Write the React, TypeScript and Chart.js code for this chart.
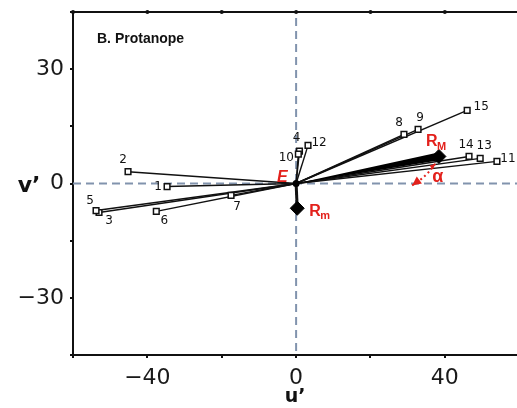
import React, { useEffect, useRef } from 'react';
import { Chart, registerables } from 'chart.js';

Chart.register(...registerables);

// ---- data ----
const X_MIN = -60;
const X_MAX = 59.4;
const Y_MIN = -45;
const Y_MAX = 45;
const X_TICK_LABELS = [-40, 0, 40];
const Y_TICK_LABELS = [30, 0, -30];
const X_LABEL = 'u\u2019';
const Y_LABEL = 'v\u2019';
const TITLE = 'B. Protanope';

const POINT_IDS = ['1', '2', '3', '4', '5', '6', '7', '8', '9', '10', '11', '12', '13', '14', '15'];
const POINT_U = [-34.7, -45.2, -53.0, 0.9, -53.8, -37.6, -17.5, 29.0, 32.8, 0.6, 54.0, 3.2, 49.5, 46.5, 46.0];
const POINT_V = [-0.8, 3.1, -7.6, 8.5, -7.1, -7.3, -3.1, 12.9, 14.2, 7.7, 5.8, 10.0, 6.6, 7.1, 19.2];

const R_MAX = { u: 38.4, v: 7.1 };
const R_MIN = { u: 0.3, v: -6.5 };
const ALPHA_ARROW_FROM = { u: 37.4, v: 5.2 };
const ALPHA_ARROW_TO = { u: 31.2, v: -0.5 };

// ---- styles (label offsets in px) ----
const LABEL_OFFSETS: [number, number][] = [
  [-9, 0], [-5, -12], [10, 8], [-3, -13], [-6, -10], [8, 10], [6, 12], [-5, -11],
  [2, -12], [-12, 4], [11, -3], [11, -3], [4, -12], [-3, -12], [14, -3],
];
const RED = '#e3211c';
const DASH = '#8193ad';

const zeroPad = (s: any) => {
  s.paddingTop = 0;
  s.paddingBottom = 0;
  s.paddingLeft = 0;
  s.paddingRight = 0;
};

export default function App() {
  const ref = useRef<HTMLCanvasElement>(null);

  useEffect(() => {
    const canvas = ref.current;
    if (!canvas) return;

    const lineSets: any[] = POINT_IDS.map((_, i) => ({
      type: 'scatter',
      data: [{ x: 0, y: 0 }, { x: POINT_U[i], y: POINT_V[i] }],
      showLine: true,
      borderColor: '#111',
      borderWidth: 1.4,
      pointRadius: 0,
      order: 3,
    }));
    lineSets.push({
      type: 'scatter',
      data: [{ x: 0, y: 0 }, { x: R_MIN.u, y: R_MIN.v }],
      showLine: true,
      borderColor: '#111',
      borderWidth: 3,
      pointRadius: 0,
      order: 3,
    });

    const squares = {
      type: 'scatter',
      data: POINT_IDS.map((_, i) => ({ x: POINT_U[i], y: POINT_V[i] })),
      pointStyle: 'rect',
      pointRadius: 4,
      backgroundColor: '#fff',
      borderColor: '#111',
      borderWidth: 1.5,
      order: 1,
    };
    const diamonds = {
      type: 'scatter',
      data: [{ x: R_MAX.u, y: R_MAX.v }, { x: R_MIN.u, y: R_MIN.v }],
      pointStyle: 'rectRot',
      pointRadius: 7,
      backgroundColor: '#000',
      borderColor: '#000',
      borderWidth: 1,
      order: 0,
    };

    const deco = {
      id: 'deco',
      beforeDatasetsDraw(chart: any) {
        const { ctx, chartArea: a, scales } = chart;
        const x = scales.x, y = scales.y;
        const x0 = x.getPixelForValue(0), y0 = y.getPixelForValue(0);
        ctx.save();
        ctx.strokeStyle = DASH;
        ctx.lineWidth = 2;
        ctx.setLineDash([8, 5]);
        ctx.beginPath();
        ctx.moveTo(x0, a.top + 6);
        ctx.lineTo(x0, a.bottom);
        ctx.moveTo(a.left, y0);
        ctx.lineTo(a.right, y0);
        ctx.stroke();
        ctx.setLineDash([]);
        ctx.strokeStyle = '#111';
        ctx.lineWidth = 2;
        ctx.beginPath();
        ctx.moveTo(a.left, a.top);
        ctx.lineTo(a.right, a.top);
        ctx.stroke();
        ctx.fillStyle = '#111';
        for (let v = -60; v <= 40; v += 20) {
          ctx.beginPath();
          ctx.arc(x.getPixelForValue(v), a.top, 2, 0, Math.PI * 2);
          ctx.fill();
        }
        ctx.restore();
      },
      afterDatasetsDraw(chart: any) {
        const { ctx, chartArea: a, scales } = chart;
        const x = scales.x, y = scales.y;
        const px = (u: number) => x.getPixelForValue(u);
        const py = (v: number) => y.getPixelForValue(v);
        const x0 = px(0), y0 = py(0);
        ctx.save();
        // wedge toward R_M
        const mx = px(R_MAX.u), my = py(R_MAX.v);
        const dx = mx - x0, dy = my - y0;
        const len = Math.hypot(dx, dy);
        const nx = -dy / len, ny = dx / len;
        ctx.fillStyle = '#000';
        ctx.beginPath();
        ctx.moveTo(x0, y0);
        ctx.lineTo(mx + nx * 4, my + ny * 4);
        ctx.lineTo(mx - nx * 4, my - ny * 4);
        ctx.closePath();
        ctx.fill();
        // origin blob
        ctx.beginPath();
        ctx.arc(x0, y0, 3.5, 0, Math.PI * 2);
        ctx.fill();

        // numbers
        ctx.fillStyle = '#111';
        ctx.font = '12px "DejaVu Sans"';
        ctx.textAlign = 'center';
        ctx.textBaseline = 'middle';
        POINT_IDS.forEach((id, i) => {
          const [ox, oy] = LABEL_OFFSETS[i];
          ctx.fillText(id, px(POINT_U[i]) + ox, py(POINT_V[i]) + oy);
        });

        // red annotations
        ctx.fillStyle = RED;
        ctx.textAlign = 'left';
        ctx.textBaseline = 'alphabetic';
        ctx.font = 'italic bold 16px "Liberation Sans"';
        ctx.fillText('E', x0 - 19, y0 - 2);
        ctx.font = 'bold 16px "Liberation Sans"';
        ctx.fillText('R', mx - 13, my - 10);
        ctx.font = 'bold 11px "Liberation Sans"';
        ctx.fillText('M', mx - 2, my - 6);
        const nxm = px(R_MIN.u), nym = py(R_MIN.v);
        ctx.font = 'bold 16px "Liberation Sans"';
        ctx.fillText('R', nxm + 12, nym + 8);
        ctx.font = 'bold 11px "Liberation Sans"';
        ctx.fillText('m', nxm + 23, nym + 11);
        ctx.font = 'bold 18px "Liberation Sans"';
        ctx.fillText('\u03b1', px(ALPHA_ARROW_FROM.u) - 3, py(ALPHA_ARROW_TO.v) - 3);

        // alpha arrow
        const ax1 = px(ALPHA_ARROW_FROM.u), ay1 = py(ALPHA_ARROW_FROM.v);
        const ax2 = px(ALPHA_ARROW_TO.u), ay2 = py(ALPHA_ARROW_TO.v);
        ctx.strokeStyle = RED;
        ctx.lineWidth = 2;
        ctx.setLineDash([2, 3]);
        ctx.beginPath();
        ctx.moveTo(ax1, ay1);
        ctx.quadraticCurveTo((ax1 + ax2) / 2 + 3, (ay1 + ay2) / 2 + 2, ax2, ay2);
        ctx.stroke();
        ctx.setLineDash([]);
        const head = (tx: number, ty: number, fx: number, fy: number, s: number) => {
          const ang = Math.atan2(ty - fy, tx - fx);
          ctx.beginPath();
          ctx.moveTo(tx, ty);
          ctx.lineTo(tx - s * Math.cos(ang - 0.45), ty - s * Math.sin(ang - 0.45));
          ctx.lineTo(tx - s * Math.cos(ang + 0.45), ty - s * Math.sin(ang + 0.45));
          ctx.closePath();
          ctx.fill();
        };
        head(ax2, ay2, ax2 + 8, ay2 - 6, 10);
        head(ax1, ay1, ax1 - 6, ay1 + 6, 6);

        // v' label
        ctx.fillStyle = '#111';
        ctx.font = 'bold 22px "DejaVu Sans"';
        ctx.textAlign = 'center';
        ctx.textBaseline = 'middle';
        ctx.fillText(Y_LABEL, 29, y0 + 3);

        // title
        ctx.font = 'bold 14px "Liberation Sans"';
        ctx.textAlign = 'left';
        ctx.textBaseline = 'alphabetic';
        ctx.fillText(TITLE, a.left + 24, a.top + 31);
        ctx.restore();
      },
    };

    const chart = new Chart(canvas, {
      type: 'scatter',
      data: { datasets: [...lineSets, squares, diamonds] as any },
      options: {
        animation: false,
        responsive: false,
        devicePixelRatio: 1,
        layout: { autoPadding: false, padding: { top: 12, left: 0, right: 0, bottom: 0 } },
        plugins: { legend: { display: false }, tooltip: { enabled: false } },
        scales: {
          x: {
            type: 'linear',
            min: X_MIN,
            max: X_MAX,
            border: { display: true, color: '#111', width: 2 },
            grid: { display: true, drawOnChartArea: false, tickLength: 3, color: '#111', lineWidth: 2 },
            ticks: {
              stepSize: 20,
              includeBounds: false,
              autoSkip: false,
              maxRotation: 0,
              padding: 7,
              color: '#1a1a1a',
              font: { family: 'DejaVu Sans', size: 22 },
              callback: (v: any) => (X_TICK_LABELS.includes(v) ? String(v).replace('-', '\u2212') : ''),
            },
            title: {
              display: true,
              text: X_LABEL,
              color: '#111',
              font: { family: 'DejaVu Sans', size: 19, weight: 'bold' },
              padding: { top: 2, bottom: 0 },
            },
            afterFit: (s: any) => { s.height = 53; zeroPad(s); },
          },
          y: {
            type: 'linear',
            min: Y_MIN,
            max: Y_MAX,
            border: { display: true, color: '#111', width: 2 },
            grid: { display: true, drawOnChartArea: false, tickLength: 3, color: '#111', lineWidth: 2 },
            ticks: {
              stepSize: 15,
              includeBounds: false,
              autoSkip: false,
              padding: 6,
              color: '#1a1a1a',
              font: { family: 'DejaVu Sans', size: 22 },
              callback: (v: any) => (Y_TICK_LABELS.includes(v) ? String(v).replace('-', '\u2212') : ''),
            },
            afterFit: (s: any) => { s.width = 73; zeroPad(s); },
          },
        },
      },
      plugins: [deco],
    } as any);

    return () => chart.destroy();
  }, []);

  return (
    <div style={{ position: 'absolute', left: 0, top: 0, width: 517, height: 408, background: '#fff' }}>
      <canvas ref={ref} width={517} height={408} style={{ display: 'block' }} />
    </div>
  );
}
